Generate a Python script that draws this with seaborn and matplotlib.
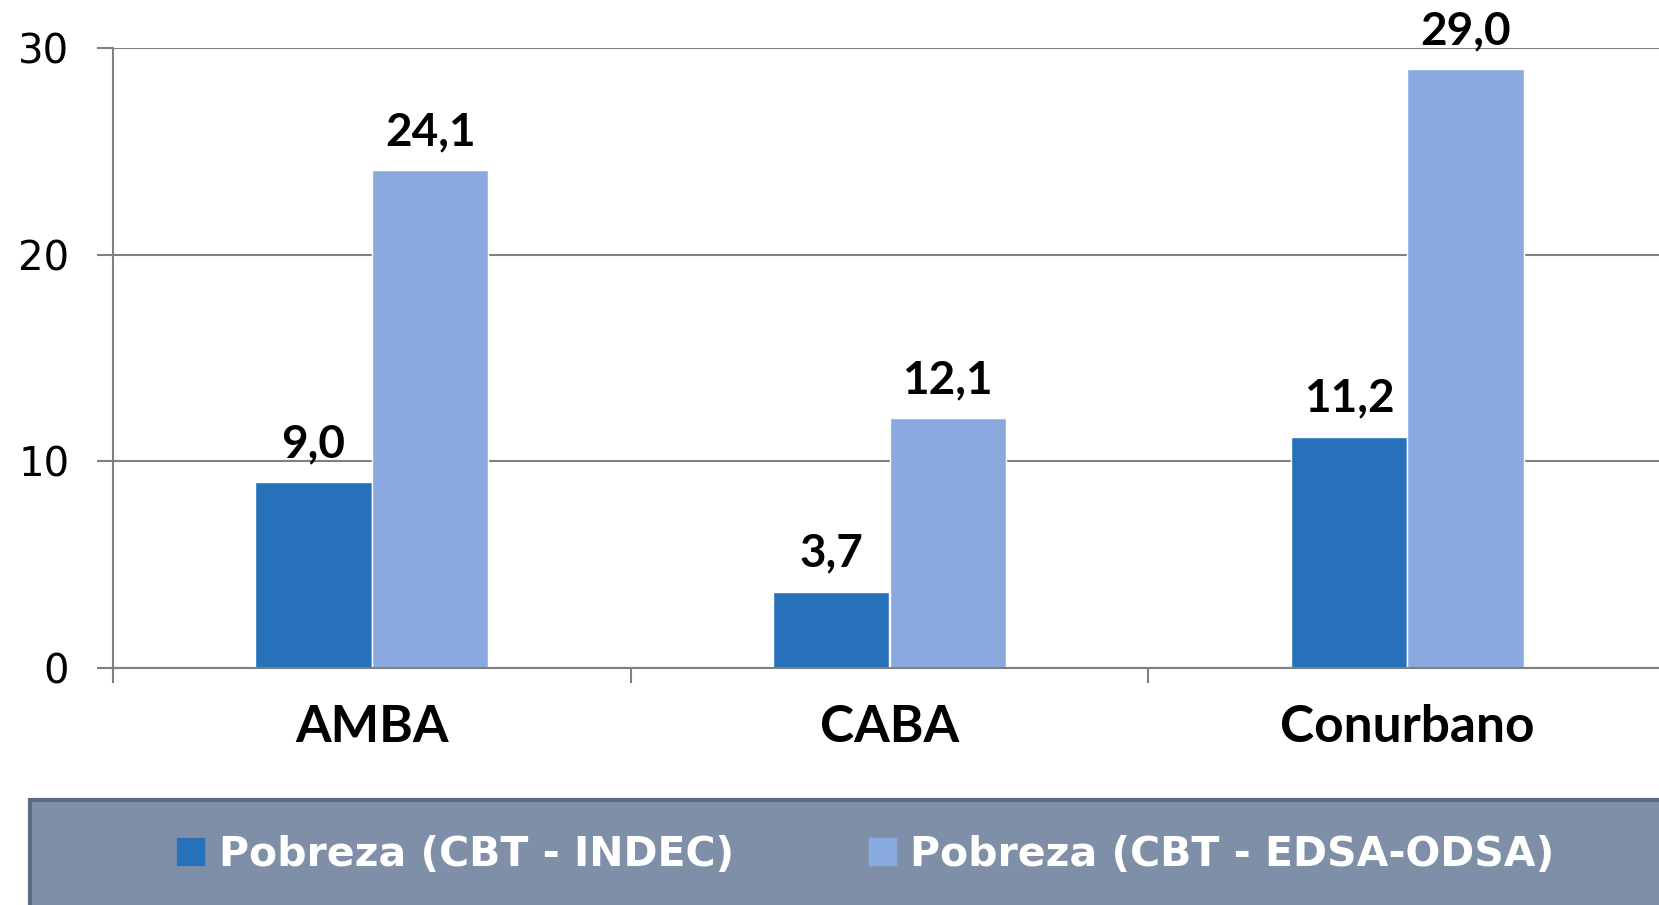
import pandas as pd
import numpy as np
import matplotlib.pyplot as plt
import seaborn as sns
from matplotlib.patches import Rectangle

# datos
categorias = ["AMBA", "CABA", "Conurbano"]
series = ["Pobreza (CBT - INDEC)", "Pobreza (CBT - EDSA-ODSA)"]
indec = [9.0, 3.7, 11.2]
edsa_odsa = [24.1, 12.1, 29.0]
colores = ["#2671BA", "#89A9DF"]
yticks = [0, 10, 20, 30]

sns.set_style("white")
plt.rcParams['font.family'] = ['Lato', 'DejaVu Sans']

df = pd.DataFrame({
    "categoria": categorias * 2,
    "serie": [series[0]] * 3 + [series[1]] * 3,
    "valor": indec + edsa_odsa,
})

fig = plt.figure(figsize=(16.59, 9.05), dpi=100)
ax = fig.add_axes([113 / 1659, 1 - 668 / 905, 1553 / 1659, 620 / 905])

sns.barplot(data=df, x="categoria", y="valor", hue="serie", palette=colores,
            width=0.45, saturation=1, ax=ax, legend=False)

for cont in ax.containers:
    ax.bar_label(cont, labels=[f"{v:.1f}".replace(".", ",") for v in cont.datavalues],
                 padding=12, fontsize=33, fontweight="bold", color="black")

ax.set_ylim(0, 30)
ax.set_xlim(-0.5, 2.5)
ax.set_yticks(yticks)
ax.set_yticklabels([str(t) for t in yticks], fontsize=29, color="black",
                   family="DejaVu Sans")
ax.yaxis.grid(True, color="#808080", linewidth=1.5)
ax.set_axisbelow(True)

# marcas del eje x entre categorias
ax.set_xticks([0, 1, 2])
ax.set_xticklabels(categorias, fontsize=37, fontweight="bold", color="black")
ax.tick_params(axis="x", length=0, pad=26)
ax.set_xticks([-0.5, 0.5, 1.5], minor=True)
ax.tick_params(axis="x", which="minor", bottom=True, length=11, width=1.5,
               color="#808080", direction="out")
ax.tick_params(axis="y", left=True, length=11.5, width=1.5, color="#808080",
               direction="out", pad=20)

ax.set_xlabel("")
ax.set_ylabel("")
for s in ["top", "right"]:
    ax.spines[s].set_visible(False)
for s in ["left", "bottom"]:
    ax.spines[s].set_color("#808080")
    ax.spines[s].set_linewidth(1.5)

# caja de leyenda
fig.patches.append(Rectangle((30 / 1659, -0.01), 1.0, (905 - 800) / 905 + 0.01,
                             transform=fig.transFigure, facecolor="#7F8FA8",
                             edgecolor="#5F6B80", linewidth=3, zorder=0))
handles = [Rectangle((0, 0), 1, 1, color=c) for c in colores]
leg = fig.legend(handles, series, loc="center", bbox_to_anchor=(866 / 1659, 1 - 855 / 905),
                 ncol=2, frameon=False, handlelength=0.65, handleheight=0.65,
                 handletextpad=0.36, columnspacing=3.3,
                 prop={"family": "DejaVu Sans", "weight": "bold", "size": 29.5})
for t in leg.get_texts():
    t.set_color("white")

fig.savefig("out.png", dpi=100)
